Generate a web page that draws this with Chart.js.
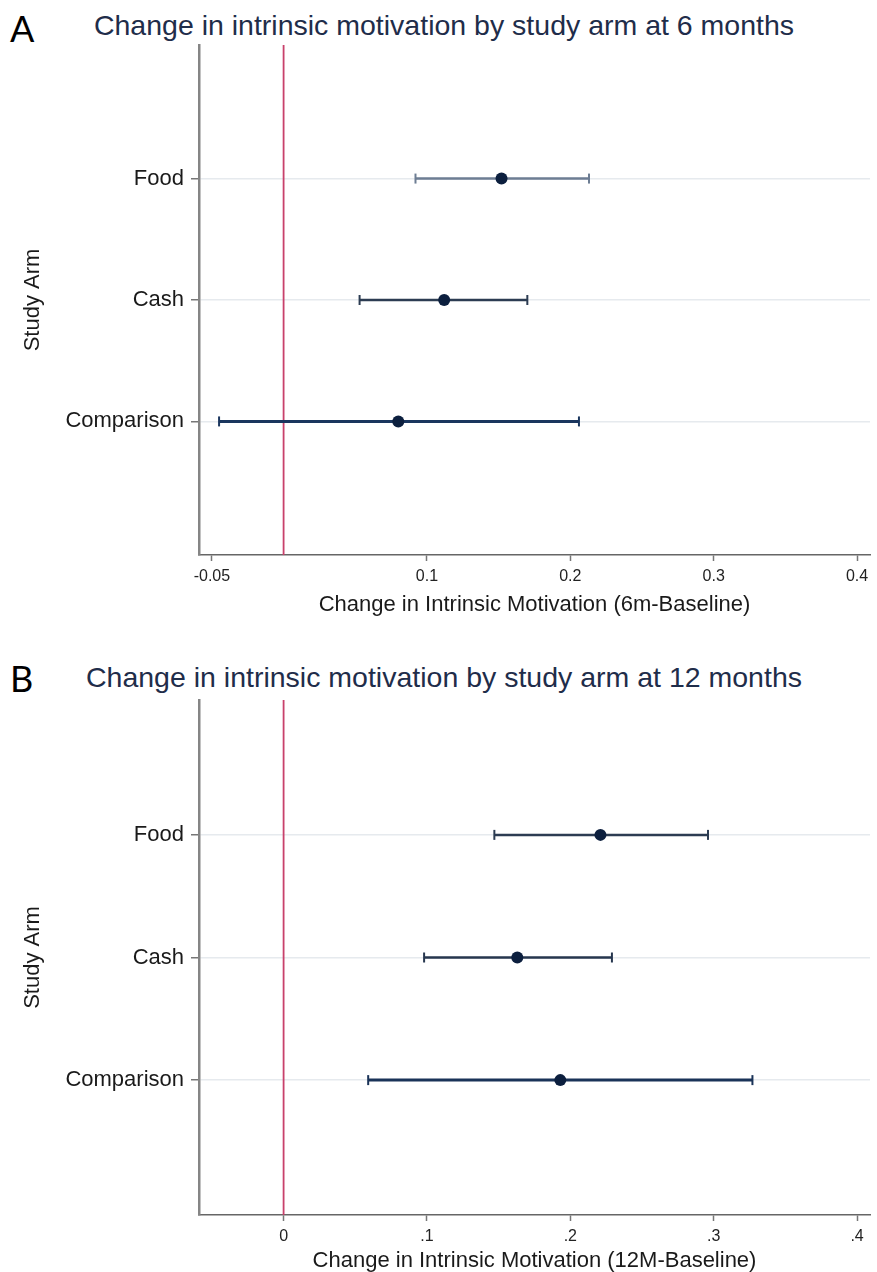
<!DOCTYPE html>
<html>
<head>
<meta charset="utf-8">
<script src="https://cdn.jsdelivr.net/npm/chart.js@4"></script>
<style>
  body { margin: 0; background: #fff; }
  .panel { position: relative; width: 877px; height: 636px; }
  .panel canvas { position: absolute; left: 0; top: 0; }
  .letter { position: absolute; left: 10px; font-family: Lato, sans-serif; font-size: 36px; color: #000; line-height: 40px; }
  .title { position: absolute; left: 0; width: 888px; text-align: center; font-family: "Liberation Sans", Arial, sans-serif;
           font-size: 28.5px; line-height: 32px; color: #1f2d4a; }
</style>
</head>
<body>
<div class="panel">
  <div class="letter" style="top:8px">A</div>
  <div class="title" style="top:9px">Change in intrinsic motivation by study arm at 6 months</div>
  <canvas id="chartA" width="877" height="636"></canvas>
</div>
<div class="panel">
  <div class="letter" style="top:22px">B</div>
  <div class="title" style="top:25px">Change in intrinsic motivation by study arm at 12 months</div>
  <canvas id="chartB" width="877" height="636"></canvas>
</div>
<script>
// study arms, top to bottom, and their row on the y axis
const arms = ['Food', 'Cash', 'Comparison'];
const armRows = [3, 2, 1];

// 6 months: estimate and confidence interval
const est6 = [0.152, 0.112, 0.080];
const low6 = [0.092, 0.053, -0.045];
const high6 = [0.213, 0.170, 0.206];

// 12 months
const est12 = [0.221, 0.163, 0.193];
const low12 = [0.147, 0.098, 0.059];
const high12 = [0.296, 0.229, 0.327];

// x axis ticks
const ticks6 = [-0.05, 0.1, 0.2, 0.3, 0.4];
const tickLabels6 = ['-0.05', '0.1', '0.2', '0.3', '0.4'];
const ticks12 = [0, 0.1, 0.2, 0.3, 0.4];
const tickLabels12 = ['0', '.1', '.2', '.3', '.4'];

const xMin = -0.059, xMax = 0.409;
const yMin = -0.1, yMax = 4.1;

function makeChart(id, est, low, high, ticks, tickLabels, xTitle, whiskerColors, whiskerWidths, pad) {
    const datasets = [];

    // the point estimates
    datasets.push({
        data: est.map((v, i) => ({ x: v, y: armRows[i] })),
        pointRadius: 6,
        pointBackgroundColor: '#0c1f3e',
        pointBorderColor: '#0c1f3e',
        pointBorderWidth: 0,
        showLine: false,
        order: 1
    });

    // confidence intervals with end caps
    arms.forEach((arm, i) => {
        datasets.push({
            data: [{ x: low[i], y: armRows[i] }, { x: high[i], y: armRows[i] }],
            showLine: true,
            borderColor: whiskerColors[i],
            borderWidth: whiskerWidths[i],
            pointStyle: 'line',
            rotation: 90,
            pointRadius: 5,
            pointBorderColor: whiskerColors[i],
            pointBorderWidth: 2,
            order: 2
        });
    });

    // reference line at zero
    datasets.push({
        data: [{ x: 0, y: yMin }, { x: 0, y: yMax }],
        showLine: true,
        borderColor: '#c8416b',
        borderWidth: 1.8,
        pointRadius: 0,
        order: 3
    });

    return new Chart(document.getElementById(id), {
        type: 'scatter',
        data: { datasets: datasets },
        options: {
            responsive: false,
            animation: false,
            layout: { padding: { left: 0, right: 1, top: pad.top, bottom: pad.bottom } },
            plugins: { legend: { display: false }, tooltip: { enabled: false } },
            scales: {
                x: {
                    type: 'linear',
                    min: xMin,
                    max: xMax,
                    afterBuildTicks: scale => { scale.ticks = ticks.map(v => ({ value: v })); },
                    afterFit: scale => { scale.height = pad.xHeight; },
                    ticks: {
                        callback: (v, i) => tickLabels[i],
                        font: { family: 'Liberation Sans', size: 16 },
                        color: '#222',
                        padding: 6,
                        maxRotation: 0
                    },
                    grid: { drawOnChartArea: false, tickLength: 6, tickColor: '#777', tickWidth: 1.5 },
                    border: { color: '#666', width: 1.5 },
                    title: {
                        display: true,
                        text: xTitle,
                        font: { family: 'Liberation Sans', size: 22, lineHeight: 1 },
                        color: '#1a1a1a',
                        padding: { top: 0, bottom: 0 }
                    }
                },
                y: {
                    type: 'linear',
                    min: yMin,
                    max: yMax,
                    afterBuildTicks: scale => { scale.ticks = armRows.map(v => ({ value: v })); },
                    afterFit: scale => { scale.width = 199; },
                    ticks: {
                        callback: v => arms[armRows.indexOf(v)],
                        font: { family: 'Liberation Sans', size: 22 },
                        color: '#1a1a1a',
                        padding: 7
                    },
                    grid: { color: '#e6eaee', lineWidth: 1.5, tickLength: 8, tickColor: '#777', tickWidth: 1.5 },
                    border: { color: '#858585', width: 2.5 },
                    title: {
                        display: true,
                        text: 'Study Arm',
                        font: { family: 'Liberation Sans', size: 22, lineHeight: 1 },
                        color: '#1a1a1a',
                        padding: { top: 22, bottom: 0 }
                    }
                }
            }
        }
    });
}

makeChart('chartA', est6, low6, high6, ticks6, tickLabels6,
    'Change in Intrinsic Motivation (6m-Baseline)',
    ['#6d7d93', '#2c3c52', '#1a365e'], [2.5, 2.5, 3],
    { top: 45, bottom: 20, xHeight: 61 });

makeChart('chartB', est12, low12, high12, ticks12, tickLabels12,
    'Change in Intrinsic Motivation (12M-Baseline)',
    ['#2c3c52', '#26364e', '#1a3358'], [2.5, 2.5, 3],
    { top: 64, bottom: 0, xHeight: 57 });
</script>
</body>
</html>
